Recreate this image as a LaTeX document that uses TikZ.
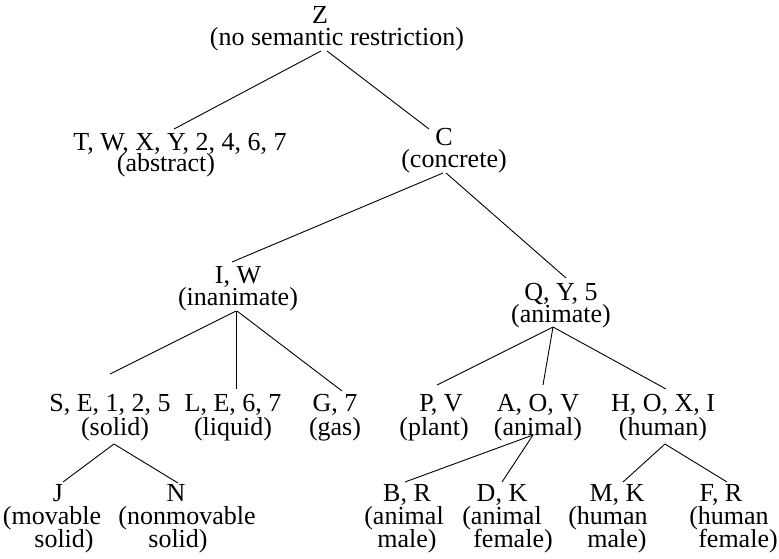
\documentclass[tikz,border=0pt]{standalone}
\usepackage{fontspec}
\setmainfont{Liberation Serif}
\usetikzlibrary{calc}
\newcommand\lines[1]{\vtop{\lineskiplimit=-\maxdimen\halign{\hfil##\hfil\cr#1\crcr}}}
\newcommand\sx[2]{\makebox[0pt]{\hspace*{#1}#2}}
\tikzset{
  lbl/.style={inner sep=0pt, outer sep=0pt, anchor=base, font=\fontsize{26}{#1}\selectfont},
  lbl/.default=21,
  edge/.style={draw=black, line width=0.9pt}
}
\begin{document}
\begin{tikzpicture}[x=1pt,y=-1pt]
\useasboundingbox (0,0) rectangle (779,559);
% row 0
\node[lbl=22] (z) at (337,24) {\lines{\sx{-34pt}{Z}\cr (no semantic restriction)}};
% row 1
\node[lbl=21] (abs) at (180,150) {\lines{T, W, X, Y, 2, 4, 6, 7\cr \sx{-28pt}{(abstract)}}};
\node[lbl=22] (c) at (454,146) {\lines{\sx{-20pt}{C}\cr (concrete)}};
% row 2
\node[lbl=22] (iw) at (238,283) {\lines{I, W\cr (inanimate)}};
\node[lbl=22] (qy) at (561,300) {\lines{Q, Y, 5\cr (animate)}};
% row 3
\node[lbl=24] (solid) at (110,411) {\lines{S, E, 1, 2, 5\cr \sx{10pt}{(solid)}}};
\node[lbl=24] (liq) at (233,411) {\lines{L, E, 6, 7\cr (liquid)}};
\node[lbl=24] (gas) at (335,411) {\lines{G, 7\cr (gas)}};
\node[lbl=24] (plant) at (434,411) {\lines{\sx{14pt}{P, V}\cr (plant)}};
\node[lbl=24] (animal) at (538,411) {\lines{A, O, V\cr (animal)}};
\node[lbl=24] (human) at (663,411) {\lines{H, O, X, I\cr (human)}};
% row 4
\node[lbl=23] (j) at (52,501) {\lines{\sx{12pt}{J}\cr (movable\cr \sx{24pt}{solid)}}};
\node[lbl=23] (n) at (187,501) {\lines{\sx{-22pt}{N}\cr (nonmovable\cr \sx{-18pt}{solid)}}};
\node[lbl=23] (br) at (404,501) {\lines{\sx{6pt}{B, R}\cr (animal\cr \sx{6pt}{male)}}};
\node[lbl=23] (dk) at (502,501) {\lines{D, K\cr (animal\cr \sx{22pt}{female)}}};
\node[lbl=23] (mk) at (608,501) {\lines{\sx{18pt}{M, K}\cr (human\cr \sx{18pt}{male)}}};
\node[lbl=23] (fr) at (729,501) {\lines{\sx{-16pt}{F, R}\cr (human\cr \sx{18pt}{female)}}};
% connectors
\draw[edge] ($(z.base)+(-16,27)$) -- ($(abs.base)+(-6,-21)$);
\draw[edge] ($(z.base)+(-10,27)$) -- ($(c.base)+(-25,-17)$);
\draw[edge] ($(c.base)+(-11,27)$) -- ($(iw.base)+(-6,-21)$);
\draw[edge] ($(c.base)+(-8,27)$) -- ($(qy.base)+(5,-22)$);
\draw[edge] ($(iw.base)+(-2,28)$) -- ($(solid.base)+(0,-37)$);
\draw[edge] ($(iw.base)+(-2,28)$) -- ($(liq.base)+(3,-22)$);
\draw[edge] ($(iw.base)+(-1,28)$) -- ($(gas.base)+(7,-20)$);
\draw[edge] ($(qy.base)+(-8,27)$) -- ($(plant.base)+(3,-26)$);
\draw[edge] ($(qy.base)+(-8,27)$) -- ($(animal.base)+(5,-26)$);
\draw[edge] ($(qy.base)+(-8,27)$) -- ($(human.base)+(3,-22)$);
\draw[edge] ($(solid.base)+(4,33)$) -- ($(j.base)+(11,-19)$);
\draw[edge] ($(solid.base)+(4,33)$) -- ($(n.base)+(-9,-18)$);
\draw[edge] ($(animal.base)+(-5,24)$) -- ($(br.base)+(1,-19)$);
\draw[edge] ($(animal.base)+(-5,24)$) -- ($(dk.base)+(0,-19)$);
\draw[edge] ($(human.base)+(2,33)$) -- ($(mk.base)+(15,-19)$);
\draw[edge] ($(human.base)+(2,33)$) -- ($(fr.base)+(-2,-19)$);
\end{tikzpicture}
\end{document}
